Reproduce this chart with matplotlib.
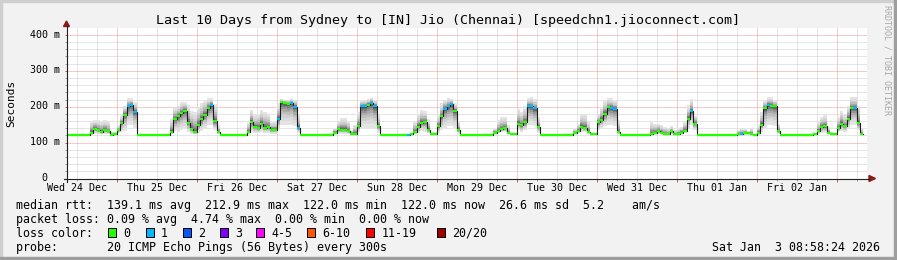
import numpy as np
import matplotlib
matplotlib.use('Agg')
import matplotlib.pyplot as plt
from matplotlib.lines import Line2D
from matplotlib.patches import Rectangle, Polygon
from matplotlib.transforms import blended_transform_factory, ScaledTranslation

plt.rcParams['font.family'] = ['DejaVu Sans Mono']

W, H = 897, 260

# one value per hour, hours counted from Wed 24 Dec 00:00 (first value = 09:00)
start_hour = 9
median_ms = [
    122, 122, 122, 122, 122, 122, 122, 128, 139, 134, 130, 135, 131, 122, 124,  # Dec 24
    135, 155, 178, 201, 205, 186, 122, 122, 122, 122, 122, 122, 122, 122, 122, 122,
    130, 166, 174, 183, 189, 155, 139, 130,  # Dec 25
    150, 165, 178, 197, 205, 160, 129, 122, 122, 122, 122, 122, 122, 122, 122,
    130, 158, 144, 140, 152, 142, 143, 136, 136,  # Dec 26
    165, 212, 210, 208, 211, 200, 141, 122, 122, 122, 122, 122, 122, 122, 122, 122, 122,
    128, 137, 136, 136, 132, 125, 124,  # Dec 27
    145, 201, 201, 206, 211, 201, 146, 122, 122, 122, 122, 122, 122, 122, 122,
    122, 124, 130, 144, 155, 157, 136, 124, 124,  # Dec 28
    145, 173, 194, 201, 207, 189, 136, 122, 122, 122, 122, 122, 122, 122, 122, 122, 122,
    128, 132, 137, 140, 126, 124, 124,  # Dec 29
    152, 148, 156, 203, 201, 195, 144, 122, 122, 122, 122, 122, 122, 122, 122, 122, 122,
    126, 133, 144, 141, 130, 124, 124,  # Dec 30
    156, 164, 180, 198, 197, 194, 130, 122, 122, 122, 122, 122, 122, 122, 122, 122,
    124, 128, 132, 128, 124, 123, 131, 123,  # Dec 31
    124, 128, 131, 167, 188, 153, 122, 122, 122, 122, 122, 122, 122, 122, 122, 122, 122, 122,
    125, 124, 127, 127, 124, 122,  # Jan 01
    128, 150, 195, 205, 203, 201, 131, 122, 122, 122, 122, 122, 122, 122, 122, 122, 122,
    124, 132, 144, 145, 128, 125, 125,  # Jan 02
    140, 152, 147, 167, 196, 196, 155, 124,  # Jan 03
]
smoke_hi = [
    122, 122, 122, 122, 122, 122, 122, 160, 162, 162, 160, 162, 158, 130, 130,
    148, 176, 203, 223, 223, 212, 122, 122, 122, 122, 122, 122, 122, 122, 122, 122,
    166, 197, 203, 212, 212, 205, 189, 185,
    199, 210, 217, 223, 223, 208, 148, 122, 122, 122, 122, 122, 122, 122, 122,
    158, 190, 176, 181, 190, 186, 181, 158, 158,
    209, 222, 220, 220, 222, 218, 176, 122, 122, 122, 122, 122, 122, 122, 122, 122, 122,
    140, 160, 168, 168, 160, 135, 150,
    185, 217, 220, 222, 225, 220, 176, 122, 122, 122, 122, 122, 122, 122, 122,
    124, 126, 160, 180, 190, 188, 165, 130, 130,
    176, 209, 220, 225, 222, 209, 158, 122, 122, 122, 122, 122, 122, 122, 122, 122, 122,
    139, 162, 171, 171, 148, 126, 126,
    194, 185, 203, 223, 226, 221, 171, 122, 122, 122, 122, 122, 122, 122, 122, 122, 122,
    139, 153, 180, 180, 157, 126, 126,
    180, 199, 217, 223, 223, 217, 162, 122, 122, 122, 122, 122, 122, 122, 122, 122,
    158, 153, 153, 149, 144, 140, 146, 135,
    140, 144, 160, 204, 222, 175, 122, 122, 122, 122, 122, 122, 122, 122, 122, 122, 122, 122,
    135, 140, 138, 132, 140, 124,
    148, 185, 217, 226, 226, 217, 153, 122, 122, 122, 122, 122, 122, 122, 122, 122, 122,
    126, 157, 171, 176, 143, 130, 128,
    171, 189, 176, 203, 226, 226, 203, 140,
]
smoke_lo = [
    122, 122, 122, 122, 122, 122, 122, 122, 124, 124, 123, 124, 123, 121, 122,
    126, 130, 132, 150, 150, 140, 122, 122, 122, 122, 122, 122, 122, 122, 122, 122,
    124, 131, 130, 135, 138, 130, 125, 123,
    128, 133, 140, 150, 150, 135, 124, 122, 122, 122, 122, 122, 122, 122, 122,
    124, 130, 128, 128, 130, 128, 128, 125, 125,
    135, 150, 150, 150, 150, 145, 128, 122, 122, 122, 122, 122, 122, 122, 122, 122, 122,
    123, 125, 125, 125, 124, 122, 122,
    130, 140, 140, 142, 142, 140, 128, 122, 122, 122, 122, 122, 122, 122, 122,
    122, 122, 124, 128, 132, 130, 126, 122, 122,
    128, 135, 140, 145, 145, 140, 125, 122, 122, 122, 122, 122, 122, 122, 122, 122, 122,
    124, 127, 130, 130, 124, 122, 122,
    135, 130, 135, 150, 150, 145, 128, 122, 122, 122, 122, 122, 122, 122, 122, 122, 122,
    123, 127, 130, 130, 125, 122, 122,
    135, 140, 145, 150, 150, 145, 125, 122, 122, 122, 122, 122, 122, 122, 122, 122,
    122, 123, 124, 123, 122, 122, 123, 122,
    122, 123, 128, 140, 150, 135, 122, 122, 122, 122, 122, 122, 122, 122, 122, 122, 122, 122,
    122, 122, 122, 122, 122, 122,
    122, 130, 140, 148, 150, 145, 125, 122, 122, 122, 122, 122, 122, 122, 122, 122, 122,
    122, 125, 128, 128, 123, 122, 122,
    130, 133, 130, 140, 150, 150, 135, 122,
]
# hours where 1 of 20 pings was lost
loss_one_hours = [27, 28, 29, 52, 72, 76, 77, 78, 97, 98, 100, 101, 111, 122, 123, 124,
                  147, 148, 149, 172, 173, 196, 211, 219, 245]

day_labels = ['Wed 24 Dec', 'Thu 25 Dec', 'Fri 26 Dec', 'Sat 27 Dec', 'Sun 28 Dec',
              'Mon 29 Dec', 'Tue 30 Dec', 'Wed 31 Dec', 'Thu 01 Jan', 'Fri 02 Jan']
ytick_vals = [0, 100, 200, 300, 400]
ytick_labels = ['0  ', '100 m', '200 m', '300 m', '400 m']
loss_labels = ['0', '1', '2', '3', '4-5', '6-10', '11-19', '20/20']
loss_colors = ['#26ff00', '#00b8ff', '#0059ff', '#7e00ff', '#ff00ff', '#ff5500', '#ff0000', '#a10000']

title = 'Last 10 Days from Sydney to [IN] Jio (Chennai) [speedchn1.jioconnect.com]'
stat_rtt = 'median rtt:  139.1 ms avg  212.9 ms max  122.0 ms min  122.0 ms now  26.6 ms sd  5.2    am/s'
stat_loss = 'packet loss: 0.09 % avg  4.74 % max  0.00 % min  0.00 % now'
probe_txt = 'probe:       20 ICMP Echo Pings (56 Bytes) every 300s'
stamp = 'Sat Jan  3 08:58:24 2026'


def fx(x):
    return x / W


def fy(y):
    return 1 - y / H


fig = plt.figure(figsize=(W / 100, H / 100), dpi=100, facecolor='#f2f2f2')
ax = fig.add_axes([fx(67), fy(178.5), 800 / W, (178.5 - 27.5) / H])
ax.set_facecolor('white')
ax.set_xlim(9.09, 249.09)
ax.set_ylim(0, 420.6)
for s in ax.spines.values():
    s.set_visible(False)

# grid
for h in np.arange(12, 250, 6):
    c = '#f29494' if h % 24 == 0 else '#cccccc'
    ax.axvline(h, color=c, lw=0.72, ls=(0, (1, 1)), zorder=1)
for v in np.arange(20, 420, 20):
    c = '#f29494' if v % 100 == 0 else '#cccccc'
    ax.axhline(v, color=c, lw=0.72, ls=(0, (1, 1)), zorder=1)

hours = np.arange(start_hour, start_hour + len(median_ms))
edges = np.append(hours, hours[-1] + 1)
med = np.array(median_ms, float)
hi = np.maximum(np.array(smoke_hi, float), med)
lo = np.minimum(np.array(smoke_lo, float), med)


def ext(a):
    return np.append(a, a[-1])


# smoke: light outside, dark close to the median
n_layers = 10
for k in range(n_layers):
    f = ((n_layers - k) / n_layers) ** 1.8
    g = int(0xe4 - (0xe4 - 0x30) * (k / (n_layers - 1)) ** 1.4)
    col = '#%02x%02x%02x' % (g, g, g)
    ax.fill_between(edges, ext(med - (med - lo) * f), ext(med + (hi - med) * f),
                    step='post', color=col, lw=0, zorder=2)

# median
ax.step(edges, ext(med), where='post', color='#1a1a1a', lw=0.8, zorder=3)
seg_cols = [loss_colors[1] if h in loss_one_hours else loss_colors[0] for h in hours]
ax.hlines(med, hours, hours + 1, colors=seg_cols, lw=1.6, zorder=4)

# ticks
ax.set_xticks(np.arange(24, 250, 24))
ax.set_xticks(np.arange(12, 250, 6), minor=True)
ax.set_yticks(ytick_vals)
ax.set_yticks(np.arange(20, 420, 20), minor=True)
ax.tick_params(which='major', length=1.8, width=0.72, color='#e05050',
               labelbottom=False, labelleft=False)
ax.tick_params(which='minor', length=1.4, width=0.72, color='#a0a0a0')

# tick labels
ytr = blended_transform_factory(ax.transAxes, ax.transData) + \
    ScaledTranslation(-7.5 / 100, -2.7 / 100, fig.dpi_scale_trans)
for v, lab in zip(ytick_vals, ytick_labels):
    ax.text(0, v, lab, transform=ytr, ha='right', va='baseline', fontsize=7.2)
xtr = blended_transform_factory(ax.transData, ax.transAxes) + \
    ScaledTranslation(0, -12.5 / 100, fig.dpi_scale_trans)
for i, lab in enumerate(day_labels):
    ax.text(12 + 24 * i, 0, lab, transform=xtr, ha='center', va='baseline', fontsize=7.2)

# axes lines and arrows
fig.add_artist(Line2D([fx(66.5), fx(66.5)], [fy(181.5), fy(26)], color='#202020', lw=0.8))
fig.add_artist(Line2D([fx(63.5), fx(869)], [fy(178.5), fy(178.5)], color='#202020', lw=0.8))
fig.add_artist(Polygon([(fx(66.5), fy(21)), (fx(63.5), fy(26.5)), (fx(69.5), fy(26.5))],
                       closed=True, color='#8b1a1a', transform=fig.transFigure))
fig.add_artist(Polygon([(fx(875.5), fy(178.5)), (fx(869), fy(175.5)), (fx(869), fy(181.5))],
                       closed=True, color='#8b1a1a', transform=fig.transFigure))

# texts
fig.text(fx(448), fy(24), title, ha='center', va='baseline', fontsize=9.6)
fig.text(fx(11), fy(103), 'Seconds', rotation=90, ha='center', va='center', fontsize=8)
fig.text(fx(886.5), fy(5), 'RRDTOOL / TOBI OETIKER', rotation=270, ha='center', va='top',
         fontsize=6, color='#a8a8a8')

fig.text(fx(16), fy(208.5), stat_rtt, ha='left', va='baseline', fontsize=8.4)
fig.text(fx(16), fy(222.6), stat_loss, ha='left', va='baseline', fontsize=8.4)
fig.text(fx(16), fy(236.7), 'loss color:', ha='left', va='baseline', fontsize=8.4)
fig.text(fx(16), fy(250.8), probe_txt, ha='left', va='baseline', fontsize=8.4)
fig.text(fx(880), fy(250.8), stamp, ha='right', va='baseline', fontsize=8.4)

box_x = [108.3, 145.7, 182.7, 220, 256, 307.3, 366, 436.7]
for bx, lab, c in zip(box_x, loss_labels, loss_colors):
    fig.add_artist(Rectangle((fx(bx), fy(236.5)), 8 / W, 9 / H, facecolor=c,
                             edgecolor='#000000', lw=0.72, transform=fig.transFigure))
    fig.text(fx(bx + 15.3), fy(236.7), lab, ha='left', va='baseline', fontsize=8.4)

# frame
fig.add_artist(Rectangle((0, 1 - 2 / H), 1, 2 / H, color='#cfcfcf', transform=fig.transFigure))
fig.add_artist(Rectangle((0, 0), 2 / W, 1, color='#cfcfcf', transform=fig.transFigure))
fig.add_artist(Rectangle((0, 0), 1, 3 / H, color='#9e9e9e', transform=fig.transFigure))
fig.add_artist(Rectangle((1 - 3 / W, 0), 3 / W, 1, color='#9e9e9e', transform=fig.transFigure))

fig.savefig('out.png', dpi=100, facecolor=fig.get_facecolor())
